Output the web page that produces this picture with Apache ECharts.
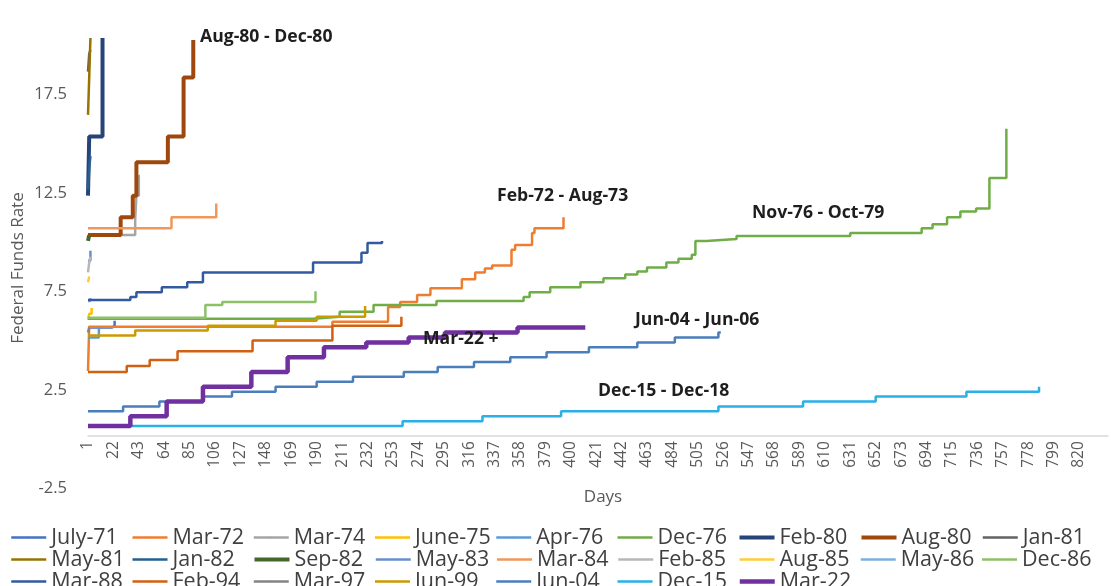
<!DOCTYPE html>
<html><head><meta charset="utf-8">
<script src="https://cdn.jsdelivr.net/npm/echarts@6/dist/echarts.min.js"></script>
<style>html,body{margin:0;padding:0;background:#fff}#c{width:1111px;height:586px}</style>
</head><body><div id="c"></div>
<script>
// x = business day index (label shows index + 1), y = federal funds rate (%)
const seriesNames = ['July-71','Mar-72','Mar-74','June-75','Apr-76','Dec-76','Feb-80','Aug-80','Jan-81',
  'May-81','Jan-82','Sep-82','May-83','Mar-84','Feb-85','Aug-85','May-86','Dec-86',
  'Mar-88','Feb-94','Mar-97','Jun-99','Jun-04','Dec-15','Mar-22'];

const july71 = [[0,5.5],[20,5.6],[22,5.85]];
const mar72  = [[0,3.3],[1,5.55],[202,5.8],[248,6.55],[258,6.8],[272,7.15],[283,7.5],[309,7.95],[320,8.3],[328,8.5],[334,8.65],[350,9.45],[353,9.7],[367,10.3],[369,10.55],[393,11.1]];
const mar74  = [[0,10.2],[39,11.0],[40,12.2],[42,13.2],[43,13.2]];
const june75 = [[0,5.9],[1,6.2],[3,6.5]];
const apr76  = [[0,5.0],[9,5.5]];
const dec76  = [[0,5.95],[186,6.05],[208,6.3],[236,6.65],[288,6.85],[360,7.05],[365,7.3],[382,7.55],[407,7.8],[426,8.0],[444,8.2],[454,8.35],[462,8.55],[478,8.8],[488,9.0],[499,9.2],[502,9.9],[511,10.0],[536,10.15],[630,10.3],[689,10.55],[698,10.75],[710,11.1],[721,11.4],[734,11.55],[745,13.1],[759,15.6]];
const feb80  = [[0,12.2],[1,15.2],[12,20.2]];
const aug80  = [[0,10.2],[27,11.1],[37,12.2],[40,13.9],[66,15.2],[79,18.2],[87,20.1]];
const jan81  = [[0,18.5],[1,19.4],[2,19.6]];
const may81  = [[0,16.3],[1,18.2],[2,20.2]];
const jan82  = [[0,12.5],[1,13.6],[2,14.2]];
const sep82  = [[0,9.9],[1,10.2]];
const may83  = [[0,8.9],[2,9.4]];
const mar84  = [[0,10.55],[69,11.1],[106,11.8]];
const feb85  = [[0,8.3],[1,8.8],[2,9.1]];
const aug85  = [[0,7.8],[1,8.1]];
const may86  = [[0,6.85],[2,7.0]];
const dec86  = [[0,6.0],[97,6.65],[111,6.8],[188,7.35]];
const mar88  = [[0,6.9],[35,7.05],[40,7.3],[61,7.55],[82,7.8],[95,8.3],[186,8.8],[226,9.3],[231,9.8],[243,9.9]];
const feb94  = [[0,3.25],[32,3.55],[51,3.85],[74,4.3],[136,4.85],[202,5.6],[259,6.05]];
const mar97  = [[0,5.25],[1,5.5]];
const jun99  = [[0,5.1],[39,5.35],[99,5.6],[155,5.85],[189,6.05],[229,6.6]];
const jun04  = [[0,1.25],[29,1.5],[59,1.75],[95,2.0],[119,2.25],[155,2.5],[189,2.75],[219,3.0],[261,3.25],[289,3.5],[319,3.75],[349,4.0],[379,4.25],[414,4.5],[454,4.75],[485,5.0],[521,5.25],[523,5.25]];
const dec15  = [[0,0.5],[260,0.75],[326,1.0],[391,1.25],[521,1.5],[591,1.75],[651,2.0],[726,2.25],[786,2.5]];
const mar22  = [[0,0.5],[35,1.0],[65,1.75],[95,2.5],[135,3.25],[165,4.0],[195,4.5],[230,4.75],[265,5.0],[295,5.25],[355,5.5],[411,5.5]];

const seriesData = [july71,mar72,mar74,june75,apr76,dec76,feb80,aug80,jan81,may81,jan82,sep82,
  may83,mar84,feb85,aug85,may86,dec86,mar88,feb94,mar97,jun99,jun04,dec15,mar22];

const colors = ['#4472C4','#ED7D31','#A5A5A5','#FFC000','#5B9BD5','#70AD47','#264478','#9E480E','#636363',
  '#997300','#255E91','#43682B','#698ED0','#F1975A','#B7B7B7','#FFCD33','#7CAFDD','#8CC168',
  '#335AA1','#D26012','#848484','#CC9A00','#4A7EBB','#2AB0E6','#7030A0'];
const thick = {'Feb-80':4,'Aug-80':4,'Sep-82':4,'Mar-22':4.5};

const annotations = [
  {text:'Aug-80 - Dec-80', x:200, y:37},
  {text:'Feb-72 - Aug-73', x:497, y:196},
  {text:'Nov-76 - Oct-79', x:752, y:213},
  {text:'Jun-04 - Jun-06', x:635, y:320},
  {text:'Mar-22 +', x:423, y:339},
  {text:'Dec-15 - Dec-18', x:598, y:391}
];

const FONT = 'Open Sans';
const chart = echarts.init(document.getElementById('c'), null, {renderer:'canvas'});
chart.setOption({
  animation:false,
  backgroundColor:'#fff',
  color: colors,
  grid:{left:88, right:3, top:22.3, height:462.9, containLabel:false},
  xAxis:{
    type:'value', min:0, max:843, interval:21, position:'bottom', offset:-49,
    axisLine:{onZero:false, lineStyle:{color:'#D9D9D9', width:1.5}},
    axisTick:{show:false},
    splitLine:{show:false},
    axisLabel:{rotate:90, fontFamily:FONT, fontSize:15.5, color:'#595959', margin:5,
      showMaxLabel:false,
      formatter:v => v > 820 ? '' : String(v+1)}
  },
  yAxis:{
    type:'value', min:-2.5, max:21, interval:5,
    axisLine:{show:false}, axisTick:{show:false}, splitLine:{show:false},
    axisLabel:{fontFamily:FONT, fontSize:16.5, color:'#595959', margin:21, showMaxLabel:false,
      formatter:v => v > 20 ? '' : '{t|' + v + '}',
      rich:{t:{fontFamily:FONT, fontSize:16.5, color:'#595959', padding:[7,0,0,0]}}}
  },
  legend:{
    left:5, top:521.5, width:1105, itemWidth:35, itemHeight:2, itemGap:0,
    lineStyle:{width:'inherit'},
    textStyle:{fontFamily:FONT, fontSize:21.5, color:'#404040', width:80, lineHeight:21},
    data: seriesNames
  },
  series: seriesNames.map((n,i)=>({
    name:n, type:'line', step:'end', symbol:'none', data:seriesData[i],
    lineStyle:{width: thick[n] || 2.5, color: colors[i]},
    itemStyle:{color: colors[i]}
  })),
  graphic: annotations.map(a=>({
    type:'text', x:a.x, y:a.y, z:100,
    style:{text:a.text, font:'bold 17.6px "'+FONT+'"', fill:'#1e1e1e', verticalAlign:'middle'}
  })).concat([
    {type:'text', x:18, y:268, rotation:Math.PI/2, z:100,
     style:{text:'Federal Funds Rate', font:'17px "'+FONT+'"', fill:'#595959', align:'center', verticalAlign:'middle'}},
    {type:'text', x:603, y:497, z:100,
     style:{text:'Days', font:'17px "'+FONT+'"', fill:'#595959', align:'center', verticalAlign:'middle'}}
  ])
});
</script></body></html>
